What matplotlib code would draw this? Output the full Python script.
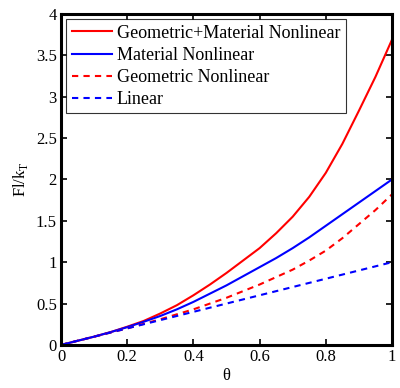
import matplotlib
matplotlib.use('Agg')
import matplotlib.pyplot as plt

# valores
theta = [0, 0.05, 0.1, 0.15, 0.2, 0.25, 0.3, 0.35, 0.4, 0.45, 0.5,
         0.55, 0.6, 0.65, 0.7, 0.75, 0.8, 0.85, 0.9, 0.95, 1.0]
geo_mat = [0, 0.05, 0.10, 0.155, 0.22, 0.29, 0.38, 0.48, 0.60, 0.73, 0.87,
           1.02, 1.17, 1.35, 1.55, 1.79, 2.08, 2.43, 2.83, 3.24, 3.69]
material = [0, 0.05, 0.10, 0.155, 0.215, 0.28, 0.35, 0.43, 0.52, 0.62, 0.72,
            0.83, 0.94, 1.05, 1.17, 1.30, 1.44, 1.58, 1.72, 1.86, 2.0]
geometric = [0, 0.05, 0.10, 0.15, 0.20, 0.255, 0.31, 0.37, 0.43, 0.50, 0.57,
             0.65, 0.73, 0.82, 0.91, 1.02, 1.14, 1.29, 1.46, 1.63, 1.82]
linear = [0, 0.05, 0.1, 0.15, 0.2, 0.25, 0.3, 0.35, 0.4, 0.45, 0.5,
          0.55, 0.6, 0.65, 0.7, 0.75, 0.8, 0.85, 0.9, 0.95, 1.0]

plt.rcParams['font.family'] = 'Liberation Serif'
plt.rcParams['mathtext.fontset'] = 'custom'
plt.rcParams['mathtext.rm'] = 'Liberation Serif'

fig = plt.figure(figsize=(4, 3.88), dpi=100)
ax = fig.add_axes([0.1525, 0.111, 0.8275, 0.853])

ax.plot(theta, geo_mat, color='#ff0000', lw=1.5, label='Geometric+Material Nonlinear')
ax.plot(theta, material, color='#0000ff', lw=1.5, label='Material Nonlinear')
ax.plot(theta, geometric, color='#ff0000', lw=1.5, ls=(0, (3, 2.5)), label='Geometric Nonlinear')
ax.plot(theta, linear, color='#0000ff', lw=1.5, ls=(0, (3, 2.5)), label='Linear')

ax.set_xlim(0, 1)
ax.set_ylim(0, 4)
ax.set_xticks([0, 0.2, 0.4, 0.6, 0.8, 1])
ax.set_xticklabels(['0', '0.2', '0.4', '0.6', '0.8', '1'])
ax.set_yticks([0, 0.5, 1, 1.5, 2, 2.5, 3, 3.5, 4])
ax.set_yticklabels(['0', '0.5', '1', '1.5', '2', '2.5', '3', '3.5', '4'])
ax.tick_params(direction='in', length=4, width=1.2, labelsize=12, top=True, right=True, pad=3)
for s in ax.spines.values():
    s.set_linewidth(2.2)

ax.set_xlabel('θ', fontsize=12, labelpad=2)
ax.set_ylabel('Fl/k$_\\mathregular{T}$', fontsize=12, labelpad=4)

leg = ax.legend(loc='upper left', fontsize=13, frameon=True, fancybox=False,
                handlelength=2.2, handletextpad=0.3, labelspacing=0.28,
                borderpad=0.3, borderaxespad=0.3)
leg.get_frame().set_edgecolor('black')
leg.get_frame().set_linewidth(0.8)

fig.savefig('out.png', dpi=100)
